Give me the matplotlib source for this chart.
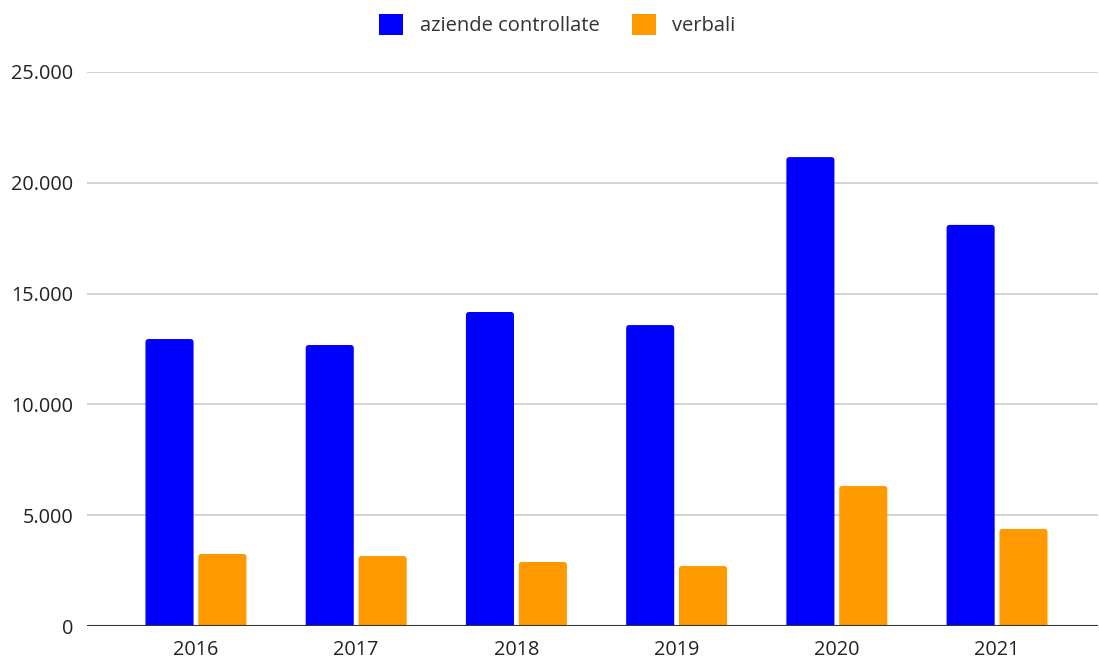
import matplotlib
matplotlib.use("Agg")
from matplotlib import pyplot as plt
from matplotlib.patches import FancyBboxPatch
from matplotlib.ticker import FuncFormatter
import numpy as np

years = ["2016", "2017", "2018", "2019", "2020", "2021"]
aziende = [12950, 12680, 14170, 13580, 21160, 18100]
verbali = [3250, 3160, 2890, 2710, 6320, 4380]

plt.rcParams['font.family'] = ['Open Sans', 'DejaVu Sans']

fig = plt.figure(figsize=(10.99, 6.62), dpi=100)
ax = fig.add_axes([87 / 1099, 1 - 626 / 662, (1098 - 87) / 1099, (626 - 72) / 662])

x = np.arange(len(years))
w = 0.30
gap = 0.03
b1 = ax.bar(x - w / 2 - gap / 2, aziende, w, color='#0000ff', label='aziende controllate', zorder=3)
b2 = ax.bar(x + w / 2 + gap / 2, verbali, w, color='#ff9900', label='verbali', zorder=3)

ax.set_xlim(-0.68, 5.63)
ax.set_ylim(0, 25000)

# swap bars for slightly rounded ones (bottom pushed below 0 so it gets clipped)
aspect = 25000 / 554 * 160  # data units per px: y / x
r = 0.02
for bars in (b1, b2):
    for p in bars:
        x0, w0, h0 = p.get_x(), p.get_width(), p.get_height()
        fc = p.get_facecolor()
        p.set_visible(False)
        rp = FancyBboxPatch((x0, -200), w0, h0 + 200,
                            boxstyle=f"round,pad=0,rounding_size={r}",
                            mutation_aspect=aspect, facecolor=fc, edgecolor='none', zorder=3)
        ax.add_patch(rp)

ax.set_yticks(np.arange(0, 25001, 5000))
ax.yaxis.set_major_formatter(FuncFormatter(lambda v, _: f"{int(v):,}".replace(",", ".")))
ax.set_xticks(x)
ax.set_xticklabels(years)

ax.grid(axis='y', color='#cccccc', linewidth=1.2, zorder=0)
ax.axhline(0, color='#333333', linewidth=1.5, zorder=4)
for s in ax.spines.values():
    s.set_visible(False)
ax.tick_params(length=0, labelsize=14.3, colors='#222222')
ax.tick_params(axis='y', pad=10)
ax.tick_params(axis='x', pad=10)

leg = fig.legend(handles=[b1, b2], loc='center', bbox_to_anchor=(0.507, 0.962), ncol=2,
                 frameon=False, fontsize=14.5, handlelength=1.2, handleheight=1.2,
                 columnspacing=1.6, handletextpad=0.8, labelcolor='#333333')
for h in leg.legend_handles:
    h.set_visible(True)

fig.savefig("out.png", dpi=100)
